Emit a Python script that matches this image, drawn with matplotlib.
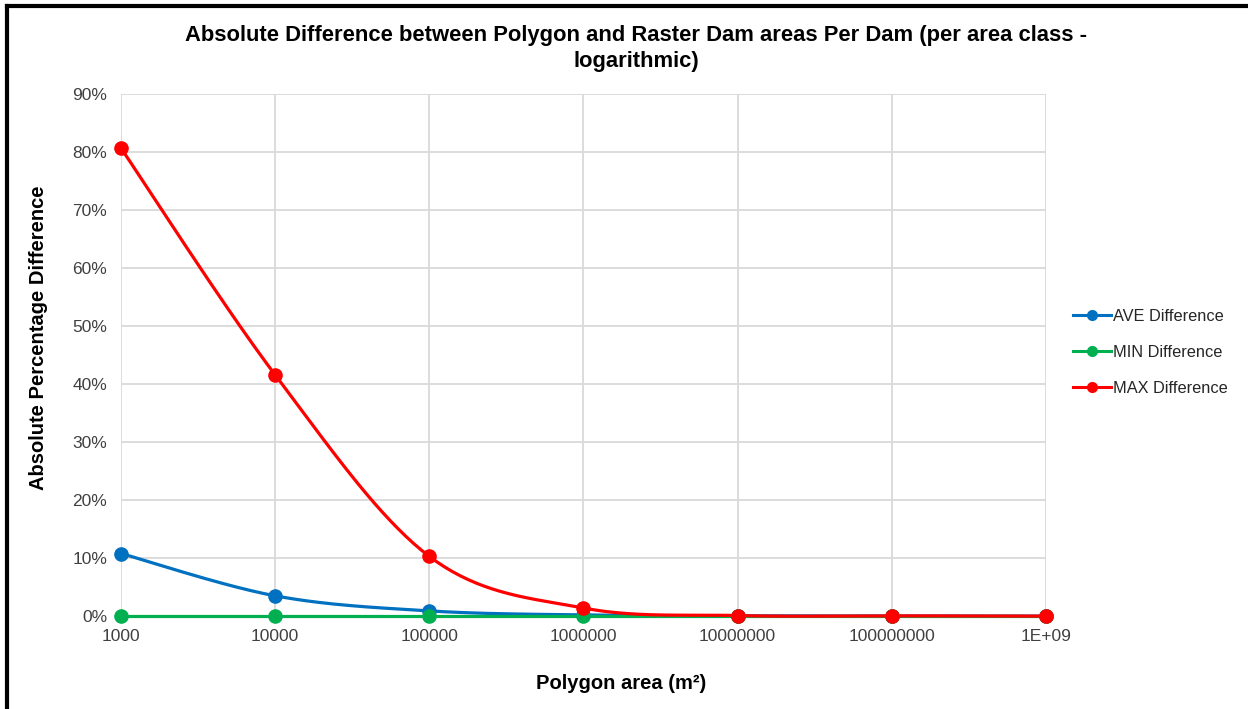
import numpy as np
import matplotlib.pyplot as plt
from matplotlib.lines import Line2D
from matplotlib.ticker import FixedLocator, FixedFormatter, PercentFormatter

plt.rcParams['font.family'] = ['Liberation Sans', 'DejaVu Sans']

# polygon area classes (m2) and the absolute % difference per class
area = [1e3, 1e4, 1e5, 1e6, 1e7, 1e8, 1e9]
area_labels = ['1000', '10000', '100000', '1000000', '10000000', '100000000', '1E+09']
ave_diff = [10.8, 3.5, 0.9, 0.2, 0.05, 0.02, 0.0]
min_diff = [0.0, 0.0, 0.0, 0.0, 0.0, 0.0, 0.0]
max_diff = [80.7, 41.6, 10.3, 1.4, 0.1, 0.05, 0.0]


def smooth(x, y, n=40):
    # catmull-rom style bezier through the points, done in log-x space
    lx = np.log10(x)
    y = np.asarray(y, float)
    px = np.concatenate([[lx[0]], lx, [lx[-1]]])
    py = np.concatenate([[y[0]], y, [y[-1]]])
    xs, ys = [], []
    t = np.linspace(0, 1, n)
    for i in range(1, len(px) - 2):
        p0 = np.array([px[i], py[i]])
        p3 = np.array([px[i + 1], py[i + 1]])
        p1 = p0 + (np.array([px[i + 1], py[i + 1]]) - np.array([px[i - 1], py[i - 1]])) / 6
        p2 = p3 - (np.array([px[i + 2], py[i + 2]]) - np.array([px[i], py[i]])) / 6
        b = ((1 - t) ** 3)[:, None] * p0 + (3 * (1 - t) ** 2 * t)[:, None] * p1 \
            + (3 * (1 - t) * t ** 2)[:, None] * p2 + (t ** 3)[:, None] * p3
        xs.extend(b[:, 0])
        ys.extend(b[:, 1])
    return 10 ** np.array(xs), np.array(ys)


fig = plt.figure(figsize=(12.48, 7.09), dpi=100)
ax = fig.add_axes([0.097, 0.131, 0.741, 0.736])

series = [('AVE Difference', ave_diff, '#0070C0'),
          ('MIN Difference', min_diff, '#00B050'),
          ('MAX Difference', max_diff, '#FF0000')]
handles = []
for name, vals, col in series:
    sx, sy = smooth(area, vals)
    ax.plot(sx, sy, color=col, lw=2.3, zorder=3, solid_capstyle='round', clip_on=False)
    ax.plot(area, vals, 'o', color=col, ms=9.5, zorder=4, clip_on=False)
    handles.append(Line2D([], [], color=col, lw=2.2, marker='o', ms=7, label=name))

ax.set_xscale('log')
ax.set_xlim(1e3, 1e9)
ax.set_ylim(0, 90)
ax.xaxis.set_major_locator(FixedLocator(area))
ax.xaxis.set_major_formatter(FixedFormatter(area_labels))
ax.xaxis.set_minor_locator(FixedLocator([]))
ax.set_yticks(np.arange(0, 91, 10))
ax.yaxis.set_major_formatter(PercentFormatter(decimals=0))
ax.grid(True, color='#d9d9d9', lw=1.3, zorder=0)
for s in ax.spines.values():
    s.set_visible(False)
ax.tick_params(length=0, labelsize=12.5, colors='#404040')
ax.tick_params(axis='y', pad=10)
ax.tick_params(axis='x', pad=9)

ax.set_xlabel('Polygon area (m²)', fontsize=14.5, fontweight='bold')
ax.set_ylabel('Absolute Percentage Difference', fontsize=14.5, fontweight='bold')
ax.xaxis.set_label_coords(0.541, -0.111)
ax.yaxis.set_label_coords(-0.079, 0.534)
fig.text(0.51, 0.965, 'Absolute Difference between Polygon and Raster Dam areas Per Dam (per area class -\nlogarithmic)',
         ha='center', va='top', fontsize=15.8, fontweight='bold', linespacing=1.3)

fig.legend(handles=handles, loc='center left', bbox_to_anchor=(0.848, 0.503),
           frameon=False, fontsize=11.8, handlelength=2.3, labelspacing=1.26,
           handletextpad=0.15, labelcolor='#262626')

# frame along the top and left edge
fig.add_artist(Line2D([0.0055, 0.0055], [0, 0.991], color='black', lw=3, transform=fig.transFigure))
fig.add_artist(Line2D([0.0055, 1], [0.991, 0.991], color='black', lw=3, transform=fig.transFigure))

fig.savefig('out.png', dpi=100)
